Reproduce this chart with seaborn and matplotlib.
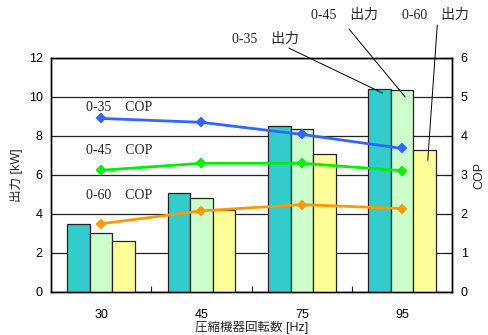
import matplotlib
matplotlib.use("Agg")
import matplotlib.pyplot as plt
import seaborn as sns
import pandas as pd
from matplotlib.ticker import FixedLocator

# Compressor speed categories
speeds = ["30", "45", "75", "95"]
series = ["0-35", "0-45", "0-60"]

# Heating output [kW] per condition
out_035 = [3.5, 5.1, 8.5, 10.4]
out_045 = [3.0, 4.8, 8.35, 10.35]
out_060 = [2.6, 4.2, 7.1, 7.3]

# COP per condition
cop_035 = [4.45, 4.35, 4.04, 3.68]
cop_045 = [3.12, 3.30, 3.30, 3.11]
cop_060 = [1.75, 2.08, 2.24, 2.14]

bar_colors = ["#33CCCC", "#CCFFCC", "#FFFF99"]
line_colors = ["#3366FF", "#00EE00", "#FF9900"]

sns.set_theme(style="white")
plt.rcParams["font.family"] = ["Liberation Sans", "Noto Sans CJK JP"]
serif_jp = ["Liberation Serif", "Noto Sans CJK JP"]

bars = pd.DataFrame({
    "speed": speeds * 3,
    "series": sum([[s] * 4 for s in series], []),
    "output": out_035 + out_045 + out_060,
})
cops = pd.DataFrame({
    "speed": speeds * 3,
    "series": sum([[s] * 4 for s in series], []),
    "cop": cop_035 + cop_045 + cop_060,
})

fig = plt.figure(figsize=(4.88, 3.35), dpi=100)
ax = fig.add_axes([0.1045, 0.1284, 0.8224, 0.6985])

sns.barplot(data=bars, x="speed", y="output", hue="series", order=speeds,
            hue_order=series, palette=bar_colors, width=0.675,
            edgecolor="#222222", linewidth=0.9, saturation=1,
            legend=False, zorder=3, ax=ax)

ax.set_ylim(0, 12)
ax.set_xlim(-0.5, 3.5)
ax.set_yticks(range(0, 13, 2))
ax.yaxis.grid(True, color="#222222", linewidth=0.9)
ax.set_axisbelow(True)
ax.tick_params(axis="y", length=0, labelsize=9, colors="black", pad=6)
ax.tick_params(axis="x", length=0, labelsize=9, colors="black", pad=12)
ax.xaxis.set_minor_locator(FixedLocator([0.5, 1.5, 2.5]))
ax.tick_params(axis="x", which="minor", direction="in", length=4,
               width=0.8, color="#222222", bottom=True)
for sp in ax.spines.values():
    sp.set_color("black")
    sp.set_linewidth(1.0)
ax.set_xlabel("圧縮機器回転数 [Hz]", fontsize=9, labelpad=0)
ax.set_ylabel("出力 [kW]", fontsize=9, labelpad=4)

ax2 = ax.twinx()
sns.pointplot(data=cops, x="speed", y="cop", hue="series", order=speeds,
              hue_order=series, palette=line_colors, markers="D",
              markersize=4.5, linewidth=2, legend=False, ax=ax2)
ax2.set_ylim(0, 6)
ax2.set_xlim(-0.5, 3.5)
ax2.set_yticks(range(0, 7))
ax2.tick_params(axis="y", direction="in", length=4, width=0.8,
                labelsize=9, colors="black", pad=6)
ax2.tick_params(axis="y", which="major", color="#222222")
ax2.set_ylabel("COP", fontsize=9, labelpad=4)
for sp in ax2.spines.values():
    sp.set_color("black")
    sp.set_linewidth(1.0)

# Series labels for the COP lines
cop_label_y = [9.44, 7.28, 4.97]
for name, yl in zip(series, cop_label_y):
    ax.text(-0.15, yl, f"{name}\u3000COP", fontsize=10, family=serif_jp,
            ha="left", va="center", zorder=6)

# Leader lines naming the output bars at 95 Hz
offsets = [-0.225, 0.0, 0.225]
tops = [out_035[3], out_045[3], out_060[3]]
drops = [0.2, 0.35, 0.55]
text_pos = [(1.64, 12.97), (2.43, 14.2), (3.33, 14.2)]
line_start = [(1.87, 12.51), (2.47, 13.49), (3.35, 13.69)]
for name, off, top, dr, tp, ls in zip(series, offsets, tops, drops,
                                      text_pos, line_start):
    ax.text(tp[0], tp[1], f"{name}\u3000出力", fontsize=10, family=serif_jp,
            ha="center", va="center", clip_on=False)
    ax.annotate("", xy=(3 + off + 0.03, top - dr), xytext=ls,
                arrowprops=dict(arrowstyle="-", color="black", lw=0.7,
                                shrinkA=0, shrinkB=0),
                annotation_clip=False, zorder=7)

fig.savefig("out.png", dpi=100)
